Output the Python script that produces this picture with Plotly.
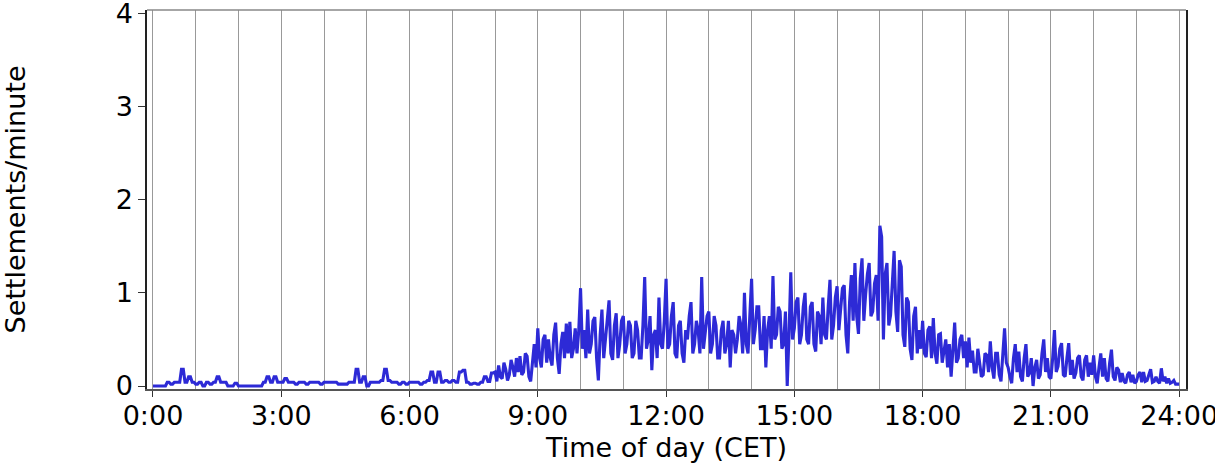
import plotly.graph_objects as go

# Settlements/minute, read per hour: primary 5-minute values (hNN) and
# in-between values 2.5 minutes later (hNNb) where the series is busy.
h00 = [0, 0, 0, 0, 0.04, 0.02, 0.04, 0.04, 0.18, 0.04, 0.1, 0.04]
h01 = [0.02, 0.04, 0, 0.04, 0.02, 0.04, 0.1, 0.04, 0.04, 0, 0, 0.03]
h02 = [0, 0, 0, 0, 0, 0, 0, 0.04, 0.1, 0.04, 0.1, 0.04]
h03 = [0.04, 0.08, 0.04, 0.04, 0.02, 0.04, 0.04, 0.02, 0.04, 0.04, 0.04, 0.02]
h04 = [0.04, 0.04, 0.04, 0.04, 0.02, 0.02, 0.02, 0.04, 0.04, 0.18, 0.04, 0.1]
h05 = [0, 0.04, 0.04, 0.04, 0.06, 0.18, 0.06, 0.04, 0.04, 0.02, 0.04, 0.02]
h06 = [0.04, 0.04, 0.04, 0.02, 0.04, 0.06, 0.15, 0.04, 0.15, 0.04, 0.06, 0.04]
h07 = [0.06, 0.04, 0.15, 0.17, 0.04, 0.02, 0.03, 0.02, 0.04, 0.1, 0.05, 0.14]
h08 = [0.15, 0.22, 0.08, 0.18, 0.12, 0.2, 0.3, 0.32, 0.15, 0.32, 0.05, 0.45]
h08b = [0.05, 0.1, 0.25, 0.06, 0.28, 0.1, 0.15, 0.12, 0.35, 0.1, 0.3, 0.2]
h09 = [0.62, 0.2, 0.55, 0.5, 0.22, 0.68, 0.13, 0.58, 0.67, 0.69, 0.4, 0.35]
h09b = [0.3, 0.5, 0.25, 0.3, 0.55, 0.3, 0.45, 0.3, 0.35, 0.3, 0.62, 0.6]
h10 = [1.05, 0.6, 0.82, 0.45, 0.74, 0.06, 0.82, 0.5, 0.92, 0.28, 0.78, 0.45]
h10b = [0.4, 0.3, 0.35, 0.7, 0.3, 0.55, 0.3, 0.75, 0.35, 0.65, 0.3, 0.7]
h11 = [0.75, 0.45, 0.65, 0.35, 0.6, 0.3, 1.17, 0.5, 0.17, 0.6, 0.95, 0.4]
h11b = [0.35, 0.7, 0.3, 0.7, 0.3, 0.65, 0.4, 0.75, 0.55, 0.3, 0.45, 0.7]
h12 = [1.15, 0.45, 0.9, 0.3, 0.7, 0.25, 0.5, 0.9, 0.45, 0.6, 1.17, 0.55]
h12b = [0.4, 0.75, 0.35, 0.65, 0.35, 0.6, 0.75, 0.35, 0.7, 0.35, 0.4, 0.75]
h13 = [0.8, 0.45, 0.65, 0.3, 0.7, 0.45, 0.2, 0.55, 0.5, 0.65, 1.0, 0.35]
h13b = [0.35, 0.75, 0.3, 0.6, 0.35, 0.7, 0.6, 0.35, 0.75, 0.35, 0.45, 0.7]
h14 = [1.15, 0.6, 0.85, 0.4, 0.2, 0.75, 1.18, 0.55, 0.8, 0.45, 0.0, 1.22]
h14b = [0.45, 0.85, 0.4, 0.75, 0.6, 0.4, 0.5, 0.85, 0.4, 0.8, 0.55, 0.5]
h15 = [0.62, 0.95, 0.55, 1.0, 0.45, 0.9, 0.37, 0.75, 0.95, 0.5, 1.14, 0.65]
h15b = [0.9, 0.45, 0.85, 0.5, 0.85, 0.45, 0.8, 0.45, 0.55, 0.85, 0.5, 0.95]
h16 = [1.07, 0.8, 1.08, 0.35, 1.19, 1.32, 0.56, 1.37, 0.98, 1.32, 0.8, 1.19]
h16b = [0.6, 1.05, 0.55, 0.9, 0.7, 0.75, 1.15, 0.7, 1.2, 0.75, 1.1, 0.7]
h17 = [1.72, 0.5, 1.32, 0.76, 1.45, 0.58, 1.28, 0.42, 0.9, 0.28, 0.85, 0.6]
h17b = [1.6, 1.2, 0.65, 1.2, 0.8, 1.35, 0.55, 0.95, 0.4, 0.75, 0.35, 0.4]
h18 = [0.7, 0.31, 0.64, 0.73, 0.24, 0.56, 0.39, 0.2, 0.1, 0.68, 0.3, 0.55]
h18b = [0.35, 0.6, 0.3, 0.35, 0.55, 0.25, 0.5, 0.45, 0.4, 0.25, 0.5, 0.3]
h19 = [0.48, 0.52, 0.38, 0.15, 0.25, 0.12, 0.33, 0.48, 0.08, 0.35, 0.05, 0.62]
h19b = [0.2, 0.25, 0.15, 0.4, 0.1, 0.35, 0.15, 0.2, 0.35, 0.12, 0.3, 0.25]
h20 = [0.2, 0.03, 0.45, 0.37, 0.05, 0.45, 0.14, 0.0, 0.28, 0.12, 0.5, 0.3]
h20b = [0.1, 0.3, 0.15, 0.1, 0.3, 0.1, 0.3, 0.2, 0.08, 0.35, 0.15, 0.1]
h21 = [0.08, 0.6, 0.21, 0.46, 0.1, 0.46, 0.28, 0.14, 0.33, 0.06, 0.33, 0.25]
h21b = [0.3, 0.15, 0.4, 0.12, 0.3, 0.12, 0.08, 0.3, 0.1, 0.28, 0.1, 0.12]
h22 = [0.33, 0.03, 0.35, 0.3, 0.05, 0.39, 0.06, 0.17, 0.14, 0.03, 0.15, 0.12]
h22b = [0.1, 0.2, 0.1, 0.08, 0.25, 0.1, 0.2, 0.04, 0.05, 0.12, 0.04, 0.03]
h23 = [0.05, 0.15, 0.15, 0.06, 0.18, 0.05, 0.05, 0.19, 0.1, 0.08, 0.04, 0.02]
h23b = [0.12, 0.04, 0.05, 0.12, 0.04, 0.1, 0.03, 0.05, 0.03, 0.03, 0.06, 0.02]
end_value = [0.02]

tick_hours = [0, 3, 6, 9, 12, 15, 18, 21, 24]
tick_labels = ["0:00", "3:00", "6:00", "9:00", "12:00", "15:00", "18:00", "21:00", "24:00"]
y_ticks = [0, 1, 2, 3, 4]

primary = [h00, h01, h02, h03, h04, h05, h06, h07, h08, h09, h10, h11,
           h12, h13, h14, h15, h16, h17, h18, h19, h20, h21, h22, h23]
secondary = [None] * 8 + [h08b, h09b, h10b, h11b, h12b, h13b, h14b, h15b,
                          h16b, h17b, h18b, h19b, h20b, h21b, h22b, h23b]

values = []
for p, s in zip(primary, secondary):
    s = s if s is not None else p
    for a, b in zip(p, s):
        values += [a, b]
values += end_value
step_minutes = 2.5
x = [i * step_minutes / 60 for i in range(len(values))]

font_family = "DejaVu Sans"
fsize = 27

fig = go.Figure()
fig.add_trace(go.Scatter(
    x=x, y=values, mode="lines",
    line=dict(color="#2d2ad6", width=3.1),
    showlegend=False, hoverinfo="skip",
))

fig.update_layout(
    width=1215, height=473,
    margin=dict(l=147, r=29, t=10, b=84),
    plot_bgcolor="white", paper_bgcolor="white",
    font=dict(family=font_family, size=fsize, color="black"),
    xaxis=dict(
        range=[-0.14, 24.16],
        automargin=False,
        tickvals=tick_hours, ticktext=tick_labels,
        ticks="outside", ticklen=6, tickcolor="#333", tickwidth=1,
        showline=True, linecolor="#555", linewidth=1.5,
        showgrid=True, gridcolor="#999", gridwidth=1,
        minor=dict(dtick=1, tick0=0, showgrid=True, gridcolor="#999", gridwidth=1, ticklen=0),
        zeroline=False, ticklabeloverflow="allow", ticklabelstandoff=-4,
        title=dict(text="Time of day (CET)", standoff=8, font=dict(size=fsize)),
    ),
    yaxis=dict(
        range=[-0.032, 4.036],
        automargin=False,
        tickvals=y_ticks,
        ticks="outside", ticklen=7, tickcolor="#333", tickwidth=1,
        showline=True, linecolor="#222", linewidth=1.5, mirror=True,
        showgrid=False, zeroline=False, ticklabeloverflow="allow",
        title=dict(text="Settlements/minute", standoff=88, font=dict(size=fsize)),
    ),
    shapes=[dict(type="line", xref="paper", yref="paper", x0=0, x1=1, y0=1, y1=1,
                 line=dict(color="#888", width=1.5))],
)

# remove the default page margin so the figure fills the 1215x473 window exactly
fig.write_html("out.html", config={"displayModeBar": False},
               post_script="document.body.style.margin='0';")
